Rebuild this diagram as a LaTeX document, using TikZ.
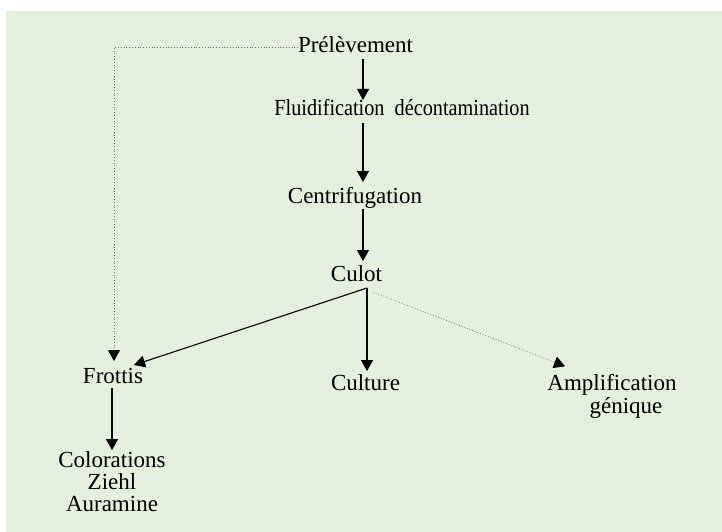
\documentclass[tikz,border=0pt]{standalone}
\usepackage{fontspec}
\usepackage{graphicx}
\setmainfont{Liberation Serif}
\usetikzlibrary{arrows.meta,calc}
\definecolor{bggreen}{RGB}{228,239,222}
\begin{document}
\begin{tikzpicture}[x=1pt,y=-1pt,
  lbl/.style={inner sep=0pt,font=\fontsize{23}{22}\selectfont},
  arr/.style={line width=1.1pt,-{Triangle[width=12pt,length=11pt]}},
  darr/.style={line width=0.8pt,draw=black!55,dotted,-{Triangle[width=12pt,length=11pt,color=black]}},
  dline/.style={line width=0.8pt,draw=black!55,dotted}]
\useasboundingbox (0,0) rectangle (722,532);
\fill[white] (0,0) rectangle (722,532);
\fill[bggreen] (6,11) rectangle (722,532);

\node[lbl,anchor=base] (pre) at (355.5,53) {Prélèvement};
\node[lbl,anchor=base] (flu) at (402,116) {\scalebox{0.88}[1]{Fluidification\ \ décontamination}};
\node[lbl,anchor=base] (cen) at (355,203) {Centrifugation};
\node[lbl,anchor=base] (cul) at (356.5,281) {Culot};
\node[lbl,anchor=base] (fro) at (113,383) {Frottis};
\node[lbl,anchor=base] (cult) at (365.5,390) {Culture};
\node[lbl,anchor=north,align=center,font=\fontsize{23}{23}\selectfont] (amp) at (612,374.3) {Amplification\\\hspace*{28pt}génique};
\node[lbl,anchor=north,align=center] (col) at (112,451.3) {Colorations\\Ziehl\\Auramine};

\coordinate (apex) at ($(cul.base)+(10.5,7)$);

\draw[arr] ($(pre.base)+(7.5,6)$) -- ($(flu.base)+(-39,-16)$);
\draw[arr] ($(flu.base)+(-39,7)$) -- ($(cen.base)+(8,-21)$);
\draw[arr] ($(cen.base)+(8,6)$) -- ($(cul.base)+(6.5,-20)$);
\draw[arr] (apex) -- ($(fro.base)+(21,-18)$);
\draw[arr] (apex) -- ($(cult.base)+(1.5,-19)$);
\draw[darr] ($(apex)+(6,4)$) -- ($(amp.north)+(-47,-8)$);
\draw[darr] ($(pre.base)+(-57.5,-6)$) -| ($(fro.base)+(1,-22)$);
\draw[arr] ($(fro.base)+(-1,5)$) -- ($(col.north)+(0,-1.3)$);
\end{tikzpicture}
\end{document}
